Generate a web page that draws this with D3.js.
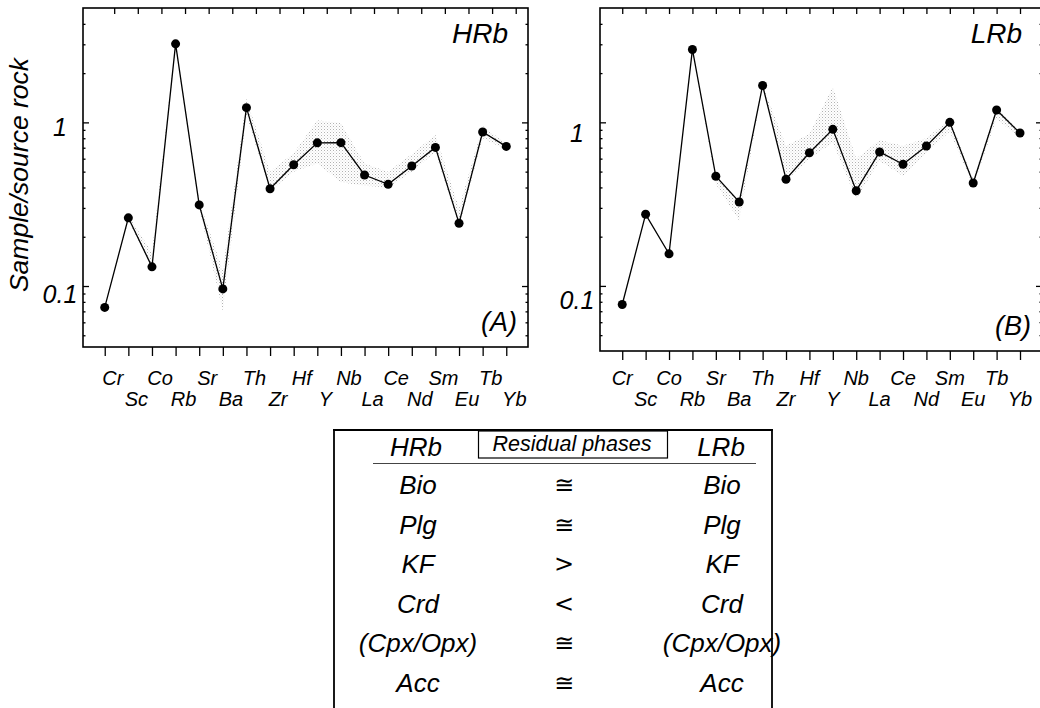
<!DOCTYPE html>
<html>
<head>
<meta charset="utf-8">
<script src="https://cdn.jsdelivr.net/npm/d3@7"></script>
<style>
  body { margin: 0; background: #fff; }
  svg text { font-family: "Liberation Sans", Arial, Helvetica, sans-serif; font-style: italic; fill: #000; }
</style>
</head>
<body>
<svg id="fig" width="1040" height="708"></svg>
<script>
// elements on the x axis
const elements = ["Cr", "Sc", "Co", "Rb", "Sr", "Ba", "Th", "Zr", "Hf", "Y", "Nb", "La", "Ce", "Nd", "Sm", "Eu", "Tb", "Yb"];

// HRb: sample/source rock and the shaded model range
const hrbValues = [0.074, 0.261, 0.131, 3.02, 0.313, 0.096, 1.23, 0.393, 0.551, 0.750, 0.752, 0.477, 0.418, 0.541, 0.703, 0.242, 0.873, 0.713];
const hrbUpper = [0.074, 0.27, 0.16, 3.1, 0.33, 0.125, 1.4, 0.5, 0.65, 1.03, 0.99, 0.56, 0.5, 0.64, 0.84, 0.3, 0.95, 0.74];
const hrbLower = [0.074, 0.25, 0.13, 2.9, 0.30, 0.07, 1.1, 0.38, 0.5, 0.56, 0.43, 0.41, 0.4, 0.5, 0.66, 0.23, 0.8, 0.68];

// LRb
const lrbValues = [0.077, 0.274, 0.157, 2.79, 0.468, 0.326, 1.68, 0.449, 0.652, 0.906, 0.382, 0.659, 0.554, 0.717, 1.0, 0.426, 1.19, 0.860];
const lrbUpper = [0.077, 0.274, 0.157, 2.79, 0.468, 0.326, 1.68, 0.72, 0.85, 1.65, 0.6, 0.78, 0.72, 0.8, 1.05, 0.45, 1.22, 0.88];
const lrbLower = [0.077, 0.274, 0.157, 2.79, 0.42, 0.25, 1.68, 0.44, 0.6, 0.75, 0.34, 0.58, 0.47, 0.65, 0.88, 0.41, 1.05, 0.8];

const yMajor = [0.1, 1];
const yMajorLabels = ["0.1", "1"];
const yMinor = [0.05, 0.06, 0.07, 0.08, 0.09, 0.2, 0.3, 0.4, 0.5, 0.6, 0.7, 0.8, 0.9, 2, 3, 4];

// residual phases table
const phasesHRb = ["Bio", "Plg", "KF", "Crd", "(Cpx/Opx)", "Acc"];
const relations = ["\u2245", "\u2245", ">", "<", "\u2245", "\u2245"];
const phasesLRb = ["Bio", "Plg", "KF", "Crd", "(Cpx/Opx)", "Acc"];

const svg = d3.select("#fig");

// stipple pattern for the model range
const pat = svg.append("defs").append("pattern")
    .attr("id", "stipple")
    .attr("width", 3).attr("height", 3)
    .attr("patternUnits", "userSpaceOnUse");
pat.append("rect").attr("x", 0).attr("y", 0).attr("width", 1).attr("height", 1).attr("fill", "#b2b2b2");
pat.append("rect").attr("x", 1.5).attr("y", 1.5).attr("width", 1).attr("height", 1).attr("fill", "#d6d6d6");

function panel(cfg) {
    const x = d3.scaleLinear().domain(cfg.xDomain).range([cfg.left, cfg.right]);
    const y = d3.scaleLog().domain(cfg.yDomain).range([cfg.bottom, cfg.top]);
    const g = svg.append("g");
    const idx = d3.range(elements.length);

    // shaded range
    const area = d3.area()
        .x(i => x(i))
        .y0(i => y(cfg.lower[i]))
        .y1(i => y(cfg.upper[i]));
    g.append("path")
        .datum(idx)
        .attr("d", area)
        .attr("fill", "url(#stipple)");

    // frame
    g.append("rect")
        .attr("x", cfg.left).attr("y", cfg.top)
        .attr("width", cfg.right - cfg.left).attr("height", cfg.bottom - cfg.top)
        .attr("fill", "none").attr("stroke", "#000").attr("stroke-width", 1.6);

    // ticks
    const noDomain = sel => sel.call(s => s.select(".domain").remove())
        .call(s => s.selectAll("line").attr("stroke", "#000").attr("stroke-width", 1.3));

    g.append("g").attr("transform", `translate(0,${cfg.bottom})`)
        .call(d3.axisBottom(x).tickValues(idx).tickSize(9).tickFormat(""))
        .call(noDomain);
    g.append("g").attr("transform", `translate(0,${cfg.top})`)
        .call(d3.axisTop(x).tickValues(idx.map(i => i + cfg.topShift)).tickSize(-6).tickFormat(""))
        .call(noDomain);
    g.append("g").attr("transform", `translate(${cfg.left},0)`)
        .call(d3.axisLeft(y).tickValues(yMajor).tickSize(-6).tickFormat(""))
        .call(noDomain);
    g.append("g").attr("transform", `translate(${cfg.left},0)`)
        .call(d3.axisLeft(y).tickValues(yMinor).tickSize(-2.5).tickFormat(""))
        .call(noDomain);
    g.append("g").attr("transform", `translate(${cfg.right},0)`)
        .call(d3.axisRight(y).tickValues(yMajor).tickSize(-6).tickFormat(""))
        .call(noDomain);
    g.append("g").attr("transform", `translate(${cfg.right},0)`)
        .call(d3.axisRight(y).tickValues(yMinor).tickSize(-2.5).tickFormat(""))
        .call(noDomain);

    // y tick labels
    g.selectAll(".ylab")
        .data(yMajor)
        .enter().append("text")
        .attr("x", cfg.left - 23)
        .attr("y", (d, i) => y(d) + cfg.labelDy[i])
        .attr("text-anchor", "middle")
        .style("font-size", "25px")
        .text((d, i) => yMajorLabels[i]);

    // element labels in two rows
    g.selectAll(".xlab")
        .data(elements)
        .enter().append("text")
        .attr("x", (d, i) => x(i + cfg.labelShift))
        .attr("y", (d, i) => i % 2 === 0 ? 385 : 406)
        .attr("text-anchor", "middle")
        .style("font-size", "20px")
        .text(d => d);

    // the data line and points
    const line = d3.line().x(i => x(i)).y(i => y(cfg.values[i]));
    g.append("path")
        .datum(idx)
        .attr("d", line)
        .attr("fill", "none")
        .attr("stroke", "#000")
        .attr("stroke-width", 1.3);
    g.selectAll("circle")
        .data(cfg.values)
        .enter().append("circle")
        .attr("cx", (d, i) => x(i))
        .attr("cy", d => y(d))
        .attr("r", 4.5)
        .attr("fill", "#000");

    g.append("text")
        .attr("x", cfg.right - 20).attr("y", cfg.top + 35)
        .attr("text-anchor", "end")
        .style("font-size", "28px")
        .text(cfg.name);
    g.append("text")
        .attr("x", cfg.right - 11).attr("y", cfg.bottom - 16)
        .attr("text-anchor", "end")
        .style("font-size", "27px")
        .text(cfg.tag);
}

panel({
    name: "HRb", tag: "(A)",
    values: hrbValues, upper: hrbUpper, lower: hrbLower,
    left: 83, right: 528, top: 8, bottom: 347,
    xDomain: [-0.92, 17.92], yDomain: [0.0424, 5],
    topShift: 0.4, labelShift: 0.34, labelDy: [17, 14]
});

panel({
    name: "LRb", tag: "(B)",
    values: lrbValues, upper: lrbUpper, lower: lrbLower,
    left: 600, right: 1042, top: 8, bottom: 351,
    xDomain: [-0.95, 17.94], yDomain: [0.04, 5],
    topShift: 0, labelShift: 0, labelDy: [23, 20]
});

// y axis title
svg.append("text")
    .attr("transform", "translate(28,175) rotate(-90)")
    .attr("text-anchor", "middle")
    .style("font-size", "26.5px")
    .text("Sample/source rock");

// residual phases table
const tbl = svg.append("g");
tbl.append("line").attr("x1", 333).attr("x2", 773).attr("y1", 430).attr("y2", 430)
    .attr("stroke", "#000").attr("stroke-width", 2.2);
tbl.append("line").attr("x1", 334).attr("x2", 334).attr("y1", 429).attr("y2", 708)
    .attr("stroke", "#000").attr("stroke-width", 1.8);
tbl.append("line").attr("x1", 772).attr("x2", 772).attr("y1", 429).attr("y2", 708)
    .attr("stroke", "#000").attr("stroke-width", 1.8);
tbl.append("rect").attr("x", 478.5).attr("y", 431).attr("width", 189).attr("height", 27)
    .attr("fill", "none").attr("stroke", "#000").attr("stroke-width", 1.2);
tbl.append("line").attr("x1", 373).attr("x2", 756).attr("y1", 463.5).attr("y2", 463.5)
    .attr("stroke", "#444").attr("stroke-width", 1.2);

tbl.append("text").attr("x", 416).attr("y", 456).attr("text-anchor", "middle")
    .style("font-size", "26px").text("HRb");
tbl.append("text").attr("x", 572).attr("y", 451).attr("text-anchor", "middle")
    .style("font-size", "21.5px").text("Residual phases");
tbl.append("text").attr("x", 721).attr("y", 456).attr("text-anchor", "middle")
    .style("font-size", "26px").text("LRb");

const rowY = d3.scaleLinear().domain([0, phasesHRb.length - 1]).range([494, 691.5]);
tbl.selectAll(".ph").data(phasesHRb).enter().append("text")
    .attr("x", 418).attr("y", (d, i) => rowY(i))
    .attr("text-anchor", "middle").style("font-size", "26px").text(d => d);
tbl.selectAll(".rel").data(relations).enter().append("text")
    .attr("x", 564).attr("y", (d, i) => rowY(i) - 1)
    .attr("text-anchor", "middle")
    .style("font-size", "24px").style("font-style", "normal")
    .style("font-family", "'DejaVu Sans', sans-serif")
    .text(d => d);
tbl.selectAll(".pl").data(phasesLRb).enter().append("text")
    .attr("x", 722).attr("y", (d, i) => rowY(i))
    .attr("text-anchor", "middle").style("font-size", "26px").text(d => d);
</script>
</body>
</html>
